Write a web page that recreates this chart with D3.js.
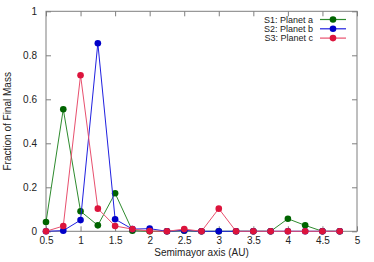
<!DOCTYPE html>
<html>
<head>
<meta charset="utf-8">
<script src="https://cdn.jsdelivr.net/npm/d3@7"></script>
<style>
  body { margin: 0; background: #fff; }
  svg text { font-family: "Liberation Sans", Arial, sans-serif; }
</style>
</head>
<body>
<div id="chart"></div>
<script>
var axisA = [0.5, 0.75, 1, 1.25, 1.5, 1.75, 2, 2.25, 2.5, 2.75, 3, 3.25, 3.5, 3.75, 4, 4.25, 4.5, 4.75];
var planetA = [0.042, 0.555, 0.091, 0.027, 0.173, 0.003, 0, 0, 0.003, 0, 0, 0, 0, 0, 0.057, 0.027, 0, 0];
var planetB = [0, 0.003, 0.051, 0.855, 0.055, 0.01, 0.012, 0, 0.004, 0, 0, 0, 0, 0, 0, 0, 0, 0];
var planetC = [0, 0.024, 0.709, 0.103, 0.024, 0.01, 0.001, 0, 0.01, 0, 0.103, 0, 0, 0, 0, 0, 0, 0];
var seriesNames = ['S1: Planet a', 'S2: Planet b', 'S3: Planet c'];
var xTicks = [0.5, 1, 1.5, 2, 2.5, 3, 3.5, 4, 4.5, 5];
var yTicks = [0, 0.2, 0.4, 0.6, 0.8, 1];

var width = 374, height = 262;
var margin = { top: 11.3, right: 17, bottom: 30.7, left: 46 };

var svg = d3.select('#chart').append('svg')
    .attr('width', width)
    .attr('height', height);

var x = d3.scaleLinear().domain([0.5, 5]).range([margin.left, width - margin.right]);
var y = d3.scaleLinear().domain([0, 1]).range([height - margin.bottom, margin.top]);

var frame = '#7f7f7f';
var fontSize = '10px';

// axes, ticks pointing inward
function styleAxis(g) {
    g.select('.domain').remove();
    g.selectAll('.tick line').attr('stroke', frame);
    g.selectAll('.tick text').style('font-size', fontSize).attr('fill', '#222');
}
svg.append('g')
    .attr('transform', 'translate(0,' + y(0) + ')')
    .call(d3.axisBottom(x).tickValues(xTicks).tickSize(-5).tickPadding(5.5).tickFormat(d3.format('')))
    .call(styleAxis);
svg.append('g')
    .attr('transform', 'translate(0,' + y(1) + ')')
    .call(d3.axisTop(x).tickValues(xTicks).tickSize(-5).tickFormat(''))
    .call(styleAxis);
svg.append('g')
    .attr('transform', 'translate(' + x(0.5) + ',0)')
    .call(d3.axisLeft(y).tickValues(yTicks).tickSize(-5).tickPadding(9).tickFormat(d3.format('')))
    .call(styleAxis);
svg.append('g')
    .attr('transform', 'translate(' + x(5) + ',0)')
    .call(d3.axisRight(y).tickValues(yTicks).tickSize(-5).tickFormat(''))
    .call(styleAxis);

svg.append('rect')
    .attr('x', x(0.5)).attr('y', y(1))
    .attr('width', x(5) - x(0.5)).attr('height', y(0) - y(1))
    .attr('fill', 'none').attr('stroke', frame).attr('stroke-width', 1);

// series
var series = [
    { name: seriesNames[0], values: planetA, line: '#2e8b2e', dot: '#006400' },
    { name: seriesNames[1], values: planetB, line: '#2020e0', dot: '#0000c8' },
    { name: seriesNames[2], values: planetC, line: '#e8506e', dot: '#dc143c' }
];

var line = d3.line()
    .x(function (d) { return x(d[0]); })
    .y(function (d) { return y(d[1]); });

series.forEach(function (s) {
    var pts = axisA.map(function (a, i) { return [a, s.values[i]]; });
    svg.append('path')
        .datum(pts)
        .attr('d', line)
        .attr('fill', 'none')
        .attr('stroke', s.line)
        .attr('stroke-width', 1);
    svg.selectAll(null)
        .data(pts)
        .enter().append('circle')
        .attr('cx', function (d) { return x(d[0]); })
        .attr('cy', function (d) { return y(d[1]); })
        .attr('r', 3.3)
        .attr('fill', s.dot);
});

// legend
var legend = svg.append('g');
series.forEach(function (s, i) {
    var ly = 19.5 + i * 9.3;
    legend.append('text')
        .attr('x', 313).attr('y', ly + 3.2)
        .attr('text-anchor', 'end')
        .style('font-size', '9px')
        .attr('fill', '#222')
        .text(s.name);
    legend.append('line')
        .attr('x1', 320).attr('x2', 346)
        .attr('y1', ly).attr('y2', ly)
        .attr('stroke', s.line).attr('stroke-width', 1.2);
    legend.append('circle')
        .attr('cx', 333).attr('cy', ly).attr('r', 3.3)
        .attr('fill', s.dot);
});

// axis titles
svg.append('text')
    .attr('x', (x(0.5) + x(5)) / 2).attr('y', 256)
    .attr('text-anchor', 'middle')
    .style('font-size', fontSize)
    .attr('fill', '#222')
    .text('Semimayor axis (AU)');
svg.append('text')
    .attr('transform', 'translate(11,' + ((y(0) + y(1)) / 2) + ') rotate(-90)')
    .attr('text-anchor', 'middle')
    .style('font-size', fontSize)
    .attr('fill', '#222')
    .text('Fraction of Final Mass');
</script>
</body>
</html>
